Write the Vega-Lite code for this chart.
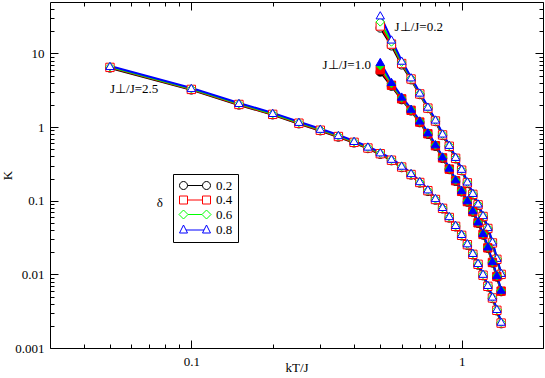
{
"$schema":"https://vega.github.io/schema/vega-lite/v6.json",
"width":493,"height":346,"autosize":"none",
"padding":{"left":50,"top":2,"right":2,"bottom":30},
"background":"white",
"config":{"view":{"stroke":"black","strokeWidth":1},"font":"Liberation Serif",
"axis":{"grid":false,"domain":false,"tickColor":"black","tickWidth":1,"labelFont":"Liberation Serif","titleFont":"Liberation Serif","labelFontSize":13,"titleFontSize":13,"titleFontWeight":"normal","labelColor":"black","titleColor":"black","labelFlush":false,"labelOverlap":false}},
"datasets":{
"pts":[
{"f":"2.5","d":"0.2","x":0.05,"y":6.36},{"f":"2.5","d":"0.2","x":0.1,"y":3.20},{"f":"2.5","d":"0.2","x":0.15,"y":2.00},{"f":"2.5","d":"0.2","x":0.2,"y":1.47},{"f":"2.5","d":"0.2","x":0.25,"y":1.11},{"f":"2.5","d":"0.2","x":0.3,"y":0.893},{"f":"2.5","d":"0.2","x":0.35,"y":0.733},{"f":"2.5","d":"0.2","x":0.4,"y":0.611},{"f":"2.5","d":"0.2","x":0.45,"y":0.512},{"f":"2.5","d":"0.2","x":0.5,"y":0.428},{"f":"2.5","d":"0.2","x":0.55,"y":0.350},{"f":"2.5","d":"0.2","x":0.6,"y":0.282},{"f":"2.5","d":"0.2","x":0.65,"y":0.224},{"f":"2.5","d":"0.2","x":0.7,"y":0.174},{"f":"2.5","d":"0.2","x":0.75,"y":0.134},{"f":"2.5","d":"0.2","x":0.8,"y":0.102},{"f":"2.5","d":"0.2","x":0.85,"y":0.0776},{"f":"2.5","d":"0.2","x":0.9,"y":0.0583},{"f":"2.5","d":"0.2","x":0.95,"y":0.0442},{"f":"2.5","d":"0.2","x":1.0,"y":0.0334},{"f":"2.5","d":"0.2","x":1.05,"y":0.0249},{"f":"2.5","d":"0.2","x":1.1,"y":0.0184},{"f":"2.5","d":"0.2","x":1.15,"y":0.0134},{"f":"2.5","d":"0.2","x":1.2,"y":0.00959},{"f":"2.5","d":"0.2","x":1.25,"y":0.00677},{"f":"2.5","d":"0.2","x":1.3,"y":0.00470},{"f":"2.5","d":"0.2","x":1.35,"y":0.00320},{"f":"2.5","d":"0.2","x":1.4,"y":0.00214},
{"f":"1.0","d":"0.2","x":0.5,"y":5.6},{"f":"1.0","d":"0.2","x":0.55,"y":3.6},{"f":"1.0","d":"0.2","x":0.6,"y":2.36},{"f":"1.0","d":"0.2","x":0.65,"y":1.66},{"f":"1.0","d":"0.2","x":0.7,"y":1.15},{"f":"1.0","d":"0.2","x":0.75,"y":0.799},{"f":"1.0","d":"0.2","x":0.8,"y":0.550},{"f":"1.0","d":"0.2","x":0.85,"y":0.376},{"f":"1.0","d":"0.2","x":0.9,"y":0.265},{"f":"1.0","d":"0.2","x":0.95,"y":0.184},{"f":"1.0","d":"0.2","x":1.0,"y":0.132},{"f":"1.0","d":"0.2","x":1.05,"y":0.0959},{"f":"1.0","d":"0.2","x":1.1,"y":0.0700},{"f":"1.0","d":"0.2","x":1.15,"y":0.0494},{"f":"1.0","d":"0.2","x":1.2,"y":0.0343},{"f":"1.0","d":"0.2","x":1.25,"y":0.0226},{"f":"1.0","d":"0.2","x":1.3,"y":0.0143},{"f":"1.0","d":"0.2","x":1.35,"y":0.00921},{"f":"1.0","d":"0.2","x":1.4,"y":0.00583},
{"f":"0.2","d":"0.2","x":0.5,"y":22.2},{"f":"0.2","d":"0.2","x":0.55,"y":12.7},{"f":"0.2","d":"0.2","x":0.6,"y":7.0},{"f":"0.2","d":"0.2","x":0.65,"y":4.4},{"f":"0.2","d":"0.2","x":0.7,"y":2.77},{"f":"0.2","d":"0.2","x":0.75,"y":1.79},{"f":"0.2","d":"0.2","x":0.8,"y":1.19},{"f":"0.2","d":"0.2","x":0.85,"y":0.771},{"f":"0.2","d":"0.2","x":0.9,"y":0.541},{"f":"0.2","d":"0.2","x":0.95,"y":0.371},{"f":"0.2","d":"0.2","x":1.0,"y":0.256},{"f":"0.2","d":"0.2","x":1.05,"y":0.172},{"f":"0.2","d":"0.2","x":1.1,"y":0.120},{"f":"0.2","d":"0.2","x":1.15,"y":0.0865},{"f":"0.2","d":"0.2","x":1.2,"y":0.0602},{"f":"0.2","d":"0.2","x":1.25,"y":0.0414},{"f":"0.2","d":"0.2","x":1.3,"y":0.0263},{"f":"0.2","d":"0.2","x":1.35,"y":0.0158},{"f":"0.2","d":"0.2","x":1.4,"y":0.00987},

{"f":"2.5","d":"0.4","x":0.05,"y":6.47},{"f":"2.5","d":"0.4","x":0.1,"y":3.25},{"f":"2.5","d":"0.4","x":0.15,"y":2.03},{"f":"2.5","d":"0.4","x":0.2,"y":1.49},{"f":"2.5","d":"0.4","x":0.25,"y":1.13},{"f":"2.5","d":"0.4","x":0.3,"y":0.907},{"f":"2.5","d":"0.4","x":0.35,"y":0.745},{"f":"2.5","d":"0.4","x":0.4,"y":0.621},{"f":"2.5","d":"0.4","x":0.45,"y":0.520},{"f":"2.5","d":"0.4","x":0.5,"y":0.435},{"f":"2.5","d":"0.4","x":0.55,"y":0.355},{"f":"2.5","d":"0.4","x":0.6,"y":0.287},{"f":"2.5","d":"0.4","x":0.65,"y":0.227},{"f":"2.5","d":"0.4","x":0.7,"y":0.177},{"f":"2.5","d":"0.4","x":0.75,"y":0.137},{"f":"2.5","d":"0.4","x":0.8,"y":0.104},{"f":"2.5","d":"0.4","x":0.85,"y":0.0788},{"f":"2.5","d":"0.4","x":0.9,"y":0.0592},{"f":"2.5","d":"0.4","x":0.95,"y":0.0449},{"f":"2.5","d":"0.4","x":1.0,"y":0.0339},{"f":"2.5","d":"0.4","x":1.05,"y":0.0253},{"f":"2.5","d":"0.4","x":1.1,"y":0.0187},{"f":"2.5","d":"0.4","x":1.15,"y":0.0137},{"f":"2.5","d":"0.4","x":1.2,"y":0.00974},{"f":"2.5","d":"0.4","x":1.25,"y":0.00688},{"f":"2.5","d":"0.4","x":1.3,"y":0.00478},{"f":"2.5","d":"0.4","x":1.35,"y":0.00325},{"f":"2.5","d":"0.4","x":1.4,"y":0.00218},
{"f":"1.0","d":"0.4","x":0.5,"y":6.0},{"f":"1.0","d":"0.4","x":0.55,"y":3.7},{"f":"1.0","d":"0.4","x":0.6,"y":2.42},{"f":"1.0","d":"0.4","x":0.65,"y":1.69},{"f":"1.0","d":"0.4","x":0.7,"y":1.17},{"f":"1.0","d":"0.4","x":0.75,"y":0.812},{"f":"1.0","d":"0.4","x":0.8,"y":0.559},{"f":"1.0","d":"0.4","x":0.85,"y":0.382},{"f":"1.0","d":"0.4","x":0.9,"y":0.269},{"f":"1.0","d":"0.4","x":0.95,"y":0.187},{"f":"1.0","d":"0.4","x":1.0,"y":0.134},{"f":"1.0","d":"0.4","x":1.05,"y":0.0974},{"f":"1.0","d":"0.4","x":1.1,"y":0.0711},{"f":"1.0","d":"0.4","x":1.15,"y":0.0501},{"f":"1.0","d":"0.4","x":1.2,"y":0.0349},{"f":"1.0","d":"0.4","x":1.25,"y":0.0229},{"f":"1.0","d":"0.4","x":1.3,"y":0.0145},{"f":"1.0","d":"0.4","x":1.35,"y":0.00936},{"f":"1.0","d":"0.4","x":1.4,"y":0.00592},
{"f":"0.2","d":"0.4","x":0.5,"y":23.6},{"f":"0.2","d":"0.4","x":0.55,"y":13.4},{"f":"0.2","d":"0.4","x":0.6,"y":7.3},{"f":"0.2","d":"0.4","x":0.65,"y":4.5},{"f":"0.2","d":"0.4","x":0.7,"y":2.82},{"f":"0.2","d":"0.4","x":0.75,"y":1.81},{"f":"0.2","d":"0.4","x":0.8,"y":1.21},{"f":"0.2","d":"0.4","x":0.85,"y":0.783},{"f":"0.2","d":"0.4","x":0.9,"y":0.549},{"f":"0.2","d":"0.4","x":0.95,"y":0.377},{"f":"0.2","d":"0.4","x":1.0,"y":0.260},{"f":"0.2","d":"0.4","x":1.05,"y":0.175},{"f":"0.2","d":"0.4","x":1.1,"y":0.122},{"f":"0.2","d":"0.4","x":1.15,"y":0.0879},{"f":"0.2","d":"0.4","x":1.2,"y":0.0611},{"f":"0.2","d":"0.4","x":1.25,"y":0.0420},{"f":"0.2","d":"0.4","x":1.3,"y":0.0267},{"f":"0.2","d":"0.4","x":1.35,"y":0.0160},{"f":"0.2","d":"0.4","x":1.4,"y":0.0100},

{"f":"2.5","d":"0.6","x":0.05,"y":6.60},{"f":"2.5","d":"0.6","x":0.1,"y":3.32},{"f":"2.5","d":"0.6","x":0.15,"y":2.08},{"f":"2.5","d":"0.6","x":0.2,"y":1.52},{"f":"2.5","d":"0.6","x":0.25,"y":1.15},{"f":"2.5","d":"0.6","x":0.3,"y":0.926},{"f":"2.5","d":"0.6","x":0.35,"y":0.761},{"f":"2.5","d":"0.6","x":0.4,"y":0.634},{"f":"2.5","d":"0.6","x":0.45,"y":0.531},{"f":"2.5","d":"0.6","x":0.5,"y":0.444},{"f":"2.5","d":"0.6","x":0.55,"y":0.363},{"f":"2.5","d":"0.6","x":0.6,"y":0.293},{"f":"2.5","d":"0.6","x":0.65,"y":0.232},{"f":"2.5","d":"0.6","x":0.7,"y":0.180},{"f":"2.5","d":"0.6","x":0.75,"y":0.139},{"f":"2.5","d":"0.6","x":0.8,"y":0.106},{"f":"2.5","d":"0.6","x":0.85,"y":0.0804},{"f":"2.5","d":"0.6","x":0.9,"y":0.0605},{"f":"2.5","d":"0.6","x":0.95,"y":0.0458},{"f":"2.5","d":"0.6","x":1.0,"y":0.0346},{"f":"2.5","d":"0.6","x":1.05,"y":0.0258},{"f":"2.5","d":"0.6","x":1.1,"y":0.0191},{"f":"2.5","d":"0.6","x":1.15,"y":0.0139},{"f":"2.5","d":"0.6","x":1.2,"y":0.00995},{"f":"2.5","d":"0.6","x":1.25,"y":0.00702},{"f":"2.5","d":"0.6","x":1.3,"y":0.00488},{"f":"2.5","d":"0.6","x":1.35,"y":0.00332},{"f":"2.5","d":"0.6","x":1.4,"y":0.00222},
{"f":"1.0","d":"0.6","x":0.5,"y":6.8},{"f":"1.0","d":"0.6","x":0.55,"y":3.9},{"f":"1.0","d":"0.6","x":0.6,"y":2.50},{"f":"1.0","d":"0.6","x":0.65,"y":1.73},{"f":"1.0","d":"0.6","x":0.7,"y":1.20},{"f":"1.0","d":"0.6","x":0.75,"y":0.829},{"f":"1.0","d":"0.6","x":0.8,"y":0.570},{"f":"1.0","d":"0.6","x":0.85,"y":0.390},{"f":"1.0","d":"0.6","x":0.9,"y":0.275},{"f":"1.0","d":"0.6","x":0.95,"y":0.191},{"f":"1.0","d":"0.6","x":1.0,"y":0.137},{"f":"1.0","d":"0.6","x":1.05,"y":0.0995},{"f":"1.0","d":"0.6","x":1.1,"y":0.0726},{"f":"1.0","d":"0.6","x":1.15,"y":0.0512},{"f":"1.0","d":"0.6","x":1.2,"y":0.0356},{"f":"1.0","d":"0.6","x":1.25,"y":0.0234},{"f":"1.0","d":"0.6","x":1.3,"y":0.0148},{"f":"1.0","d":"0.6","x":1.35,"y":0.00956},{"f":"1.0","d":"0.6","x":1.4,"y":0.00605},
{"f":"0.2","d":"0.6","x":0.5,"y":26.8},{"f":"0.2","d":"0.6","x":0.55,"y":14.3},{"f":"0.2","d":"0.6","x":0.6,"y":7.6},{"f":"0.2","d":"0.6","x":0.65,"y":4.6},{"f":"0.2","d":"0.6","x":0.7,"y":2.88},{"f":"0.2","d":"0.6","x":0.75,"y":1.85},{"f":"0.2","d":"0.6","x":0.8,"y":1.24},{"f":"0.2","d":"0.6","x":0.85,"y":0.80},{"f":"0.2","d":"0.6","x":0.9,"y":0.561},{"f":"0.2","d":"0.6","x":0.95,"y":0.385},{"f":"0.2","d":"0.6","x":1.0,"y":0.265},{"f":"0.2","d":"0.6","x":1.05,"y":0.178},{"f":"0.2","d":"0.6","x":1.1,"y":0.125},{"f":"0.2","d":"0.6","x":1.15,"y":0.0897},{"f":"0.2","d":"0.6","x":1.2,"y":0.0624},{"f":"0.2","d":"0.6","x":1.25,"y":0.0429},{"f":"0.2","d":"0.6","x":1.3,"y":0.0273},{"f":"0.2","d":"0.6","x":1.35,"y":0.0164},{"f":"0.2","d":"0.6","x":1.4,"y":0.0102},

{"f":"2.5","d":"0.8","x":0.05,"y":6.77},{"f":"2.5","d":"0.8","x":0.1,"y":3.40},{"f":"2.5","d":"0.8","x":0.15,"y":2.13},{"f":"2.5","d":"0.8","x":0.2,"y":1.56},{"f":"2.5","d":"0.8","x":0.25,"y":1.18},{"f":"2.5","d":"0.8","x":0.3,"y":0.95},{"f":"2.5","d":"0.8","x":0.35,"y":0.78},{"f":"2.5","d":"0.8","x":0.4,"y":0.65},{"f":"2.5","d":"0.8","x":0.45,"y":0.545},{"f":"2.5","d":"0.8","x":0.5,"y":0.455},{"f":"2.5","d":"0.8","x":0.55,"y":0.372},{"f":"2.5","d":"0.8","x":0.6,"y":0.300},{"f":"2.5","d":"0.8","x":0.65,"y":0.238},{"f":"2.5","d":"0.8","x":0.7,"y":0.185},{"f":"2.5","d":"0.8","x":0.75,"y":0.143},{"f":"2.5","d":"0.8","x":0.8,"y":0.109},{"f":"2.5","d":"0.8","x":0.85,"y":0.0825},{"f":"2.5","d":"0.8","x":0.9,"y":0.0620},{"f":"2.5","d":"0.8","x":0.95,"y":0.0470},{"f":"2.5","d":"0.8","x":1.0,"y":0.0355},{"f":"2.5","d":"0.8","x":1.05,"y":0.0265},{"f":"2.5","d":"0.8","x":1.1,"y":0.0196},{"f":"2.5","d":"0.8","x":1.15,"y":0.0143},{"f":"2.5","d":"0.8","x":1.2,"y":0.0102},{"f":"2.5","d":"0.8","x":1.25,"y":0.0072},{"f":"2.5","d":"0.8","x":1.3,"y":0.0050},{"f":"2.5","d":"0.8","x":1.35,"y":0.0034},{"f":"2.5","d":"0.8","x":1.4,"y":0.00228},
{"f":"1.0","d":"0.8","x":0.5,"y":7.67},{"f":"1.0","d":"0.8","x":0.55,"y":4.11},{"f":"1.0","d":"0.8","x":0.6,"y":2.60},{"f":"1.0","d":"0.8","x":0.65,"y":1.78},{"f":"1.0","d":"0.8","x":0.7,"y":1.23},{"f":"1.0","d":"0.8","x":0.75,"y":0.85},{"f":"1.0","d":"0.8","x":0.8,"y":0.585},{"f":"1.0","d":"0.8","x":0.85,"y":0.40},{"f":"1.0","d":"0.8","x":0.9,"y":0.282},{"f":"1.0","d":"0.8","x":0.95,"y":0.196},{"f":"1.0","d":"0.8","x":1.0,"y":0.140},{"f":"1.0","d":"0.8","x":1.05,"y":0.102},{"f":"1.0","d":"0.8","x":1.1,"y":0.0745},{"f":"1.0","d":"0.8","x":1.15,"y":0.0525},{"f":"1.0","d":"0.8","x":1.2,"y":0.0365},{"f":"1.0","d":"0.8","x":1.25,"y":0.0240},{"f":"1.0","d":"0.8","x":1.3,"y":0.0152},{"f":"1.0","d":"0.8","x":1.35,"y":0.0098},{"f":"1.0","d":"0.8","x":1.4,"y":0.0062},
{"f":"0.2","d":"0.8","x":0.5,"y":33},{"f":"0.2","d":"0.8","x":0.55,"y":15.5},{"f":"0.2","d":"0.8","x":0.6,"y":8.0},{"f":"0.2","d":"0.8","x":0.65,"y":4.75},{"f":"0.2","d":"0.8","x":0.7,"y":2.95},{"f":"0.2","d":"0.8","x":0.75,"y":1.90},{"f":"0.2","d":"0.8","x":0.8,"y":1.27},{"f":"0.2","d":"0.8","x":0.85,"y":0.82},{"f":"0.2","d":"0.8","x":0.9,"y":0.575},{"f":"0.2","d":"0.8","x":0.95,"y":0.395},{"f":"0.2","d":"0.8","x":1.0,"y":0.272},{"f":"0.2","d":"0.8","x":1.05,"y":0.183},{"f":"0.2","d":"0.8","x":1.1,"y":0.128},{"f":"0.2","d":"0.8","x":1.15,"y":0.092},{"f":"0.2","d":"0.8","x":1.2,"y":0.064},{"f":"0.2","d":"0.8","x":1.25,"y":0.044},{"f":"0.2","d":"0.8","x":1.3,"y":0.028},{"f":"0.2","d":"0.8","x":1.35,"y":0.0168},{"f":"0.2","d":"0.8","x":1.4,"y":0.0105}
],
"lab":[
{"t":"J⊥/J=2.5","x":0.05,"y":3.3},
{"t":"J⊥/J=1.0","x":0.306,"y":6.98},
{"t":"J⊥/J=0.2","x":0.565,"y":22.9},
{"t":"δ","x":0.0745,"y":0.0937}
]},
"resolve":{"axis":{"x":"independent","y":"independent"},"scale":{"shape":"independent","stroke":"independent","fill":"independent"},"legend":{"shape":"independent","stroke":"independent","fill":"independent"}},
"layer":[
{"data":{"name":"pts"},
 "mark":{"type":"line","strokeWidth":2},
 "encoding":{
  "x":{"field":"x","type":"quantitative","scale":{"type":"log","domain":[0.03,2],"nice":false},
   "axis":{"orient":"bottom","values":[0.1,1],"format":"~g","tickSize":-8,"labelPadding":15,"title":"kT/J","titlePadding":-7}},
  "y":{"field":"y","type":"quantitative","scale":{"type":"log","domain":[0.001,50],"nice":false},
   "axis":{"orient":"left","values":[0.001,0.01,0.1,1,10],"format":"~g","tickSize":-8,"labelPadding":14,"title":"K","titlePadding":0}},
  "stroke":{"field":"d","type":"nominal","scale":{"domain":["0.2","0.4","0.6","0.8"],"range":["#000000","#ff0000","#00ff00","#0000ff"]},"legend":null},
  "detail":{"field":"f"}
 }},
{"data":{"name":"pts"},
 "transform":[{"filter":"datum.f != '1.0'"}],
 "mark":{"type":"point","filled":true,"fill":"white","strokeWidth":1,"size":70,"opacity":1},
 "encoding":{
  "x":{"field":"x","type":"quantitative","scale":{"type":"log","domain":[0.03,2],"nice":false},
   "axis":{"orient":"bottom","values":[0.04,0.05,0.06,0.07,0.08,0.09,0.2,0.3,0.4,0.5,0.6,0.7,0.8,0.9,2],"labels":false,"tickSize":-4,"title":null}},
  "y":{"field":"y","type":"quantitative","scale":{"type":"log","domain":[0.001,50],"nice":false},
   "axis":{"orient":"left","values":[0.002,0.003,0.004,0.005,0.006,0.007,0.008,0.009,0.02,0.03,0.04,0.05,0.06,0.07,0.08,0.09,0.2,0.3,0.4,0.5,0.6,0.7,0.8,0.9,2,3,4,5,6,7,8,9,20,30,40],"labels":false,"tickSize":-4,"title":null}},
  "stroke":{"field":"d","type":"nominal","scale":{"domain":["0.2","0.4","0.6","0.8"],"range":["#000000","#ff0000","#00ff00","#0000ff"]},"legend":null},
  "shape":{"field":"d","type":"nominal","scale":{"domain":["0.2","0.4","0.6","0.8"],"range":["circle","square","diamond","triangle-up"]},"legend":null},
  "detail":{"field":"f"}
 }},
{"data":{"name":"pts"},
 "transform":[{"filter":"datum.f == '1.0'"}],
 "mark":{"type":"point","filled":true,"strokeWidth":1,"size":70,"opacity":1},
 "encoding":{
  "x":{"field":"x","type":"quantitative","scale":{"type":"log","domain":[0.03,2],"nice":false},
   "axis":{"orient":"top","values":[0.1,1],"labels":false,"tickSize":-8,"title":null}},
  "y":{"field":"y","type":"quantitative","scale":{"type":"log","domain":[0.001,50],"nice":false},
   "axis":{"orient":"right","values":[0.001,0.01,0.1,1,10],"labels":false,"tickSize":-8,"title":null}},
  "stroke":{"field":"d","type":"nominal","scale":{"domain":["0.2","0.4","0.6","0.8"],"range":["#000000","#ff0000","#00ff00","#0000ff"]},"legend":null},
  "fill":{"field":"d","type":"nominal","scale":{"domain":["0.2","0.4","0.6","0.8"],"range":["#000000","#ff0000","#00ff00","#0000ff"]},"legend":null},
  "shape":{"field":"d","type":"nominal","scale":{"domain":["0.2","0.4","0.6","0.8"],"range":["circle","square","diamond","triangle-up"]},"legend":null}
 }},
{"data":{"name":"lab"},
 "mark":{"type":"text","align":"left","baseline":"middle","font":"Liberation Serif","fontSize":13,"color":"black"},
 "encoding":{
  "x":{"field":"x","type":"quantitative","scale":{"type":"log","domain":[0.03,2],"nice":false},
   "axis":{"orient":"top","values":[0.04,0.05,0.06,0.07,0.08,0.09,0.2,0.3,0.4,0.5,0.6,0.7,0.8,0.9,2],"labels":false,"tickSize":-4,"title":null}},
  "y":{"field":"y","type":"quantitative","scale":{"type":"log","domain":[0.001,50],"nice":false},
   "axis":{"orient":"right","values":[0.002,0.003,0.004,0.005,0.006,0.007,0.008,0.009,0.02,0.03,0.04,0.05,0.06,0.07,0.08,0.09,0.2,0.3,0.4,0.5,0.6,0.7,0.8,0.9,2,3,4,5,6,7,8,9,20,30,40],"labels":false,"tickSize":-4,"title":null}},
  "text":{"field":"t"}
 }},
{"data":{"name":"pts"},
 "transform":[{"filter":"false"}],
 "mark":{"type":"point","filled":false,"strokeWidth":1,"opacity":1},
 "encoding":{
  "x":{"field":"x","type":"quantitative","scale":{"type":"log","domain":[0.03,2],"nice":false},"axis":null},
  "y":{"field":"y","type":"quantitative","scale":{"type":"log","domain":[0.001,50],"nice":false},"axis":null},
  "stroke":{"field":"d","type":"nominal","scale":{"domain":["0.2","0.4","0.6","0.8"],"range":["#000000","#ff0000","#00ff00","#0000ff"]},
   "legend":{"orient":"none","legendX":123,"legendY":172,"title":null,"strokeColor":"black","fillColor":"white","padding":5,"labelFont":"Liberation Serif","labelFontSize":13,"labelColor":"black","labelOffset":25,"symbolSize":4,"symbolStrokeWidth":1,"rowPadding":0.5}},
  "shape":{"field":"d","type":"nominal","scale":{"domain":["0.2","0.4","0.6","0.8"],"range":["M-5,0 A4,4 0 1,1 3,0 A4,4 0 1,1 -5,0 M3,0 L18,0 M18,0 A4,4 0 1,1 26,0 A4,4 0 1,1 18,0","M-5,-4 L3,-4 L3,4 L-5,4 Z M3,0 L18,0 M18,-4 L26,-4 L26,4 L18,4 Z","M-5.5,0 L-1,-4.5 L3.5,0 L-1,4.5 Z M3.5,0 L17.5,0 M17.5,0 L22,-4.5 L26.5,0 L22,4.5 Z","M-5,3 L-1,-5 L3,3 Z M1.5,0 L19.5,0 M18,3 L22,-5 L26,3 Z"]},
   "legend":{"orient":"none","legendX":123,"legendY":172,"title":null,"strokeColor":"black","fillColor":"white","padding":5,"labelFont":"Liberation Serif","labelFontSize":13,"labelColor":"black","labelOffset":25,"symbolSize":4,"symbolStrokeWidth":1,"rowPadding":0.5}}
 }}
]
}
